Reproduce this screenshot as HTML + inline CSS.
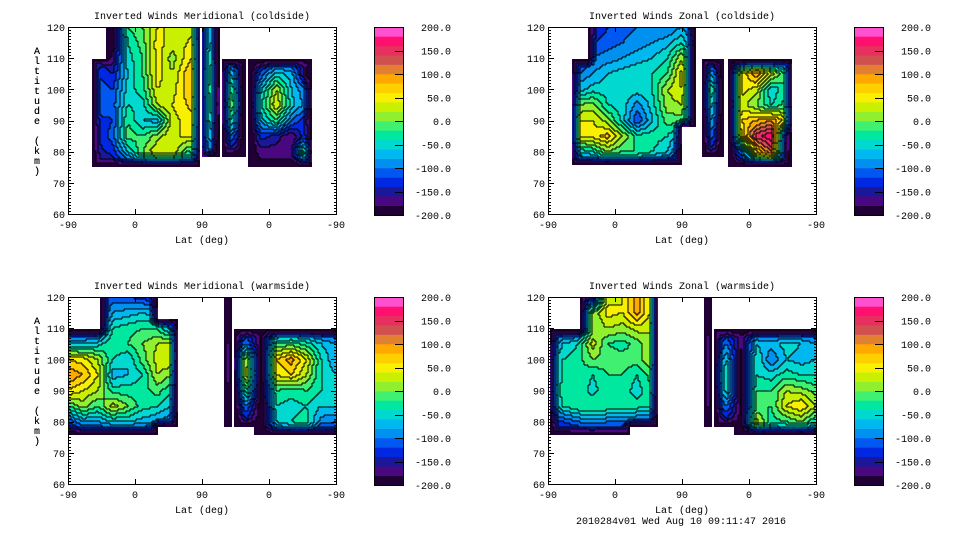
<!DOCTYPE html>
<html><head><meta charset="utf-8"><style>
html,body{margin:0;padding:0;background:#fff;}
svg{display:block;}
text{font-family:"Liberation Mono","DejaVu Sans Mono",monospace;font-size:10px;fill:#000;}
</style></head><body>
<svg id="root" width="960" height="540" viewBox="0 0 960 540"></svg>
<script>
// ---- data (rows: altitude 120,115,...,75 km; columns: lat-axis position 0,20,...,360) ----
const altRows = [120,115,110,105,100,95,90,85,80,75];
const colPos = [0,20,40,60,80,100,120,140,160,180,200,220,240,260,280,300,320,340,360];
const xTickLabels = ["-90","0","90","0","-90"];
const yTickLabels = ["60","70","80","90","100","110","120"];
const cbarLabels = ["200.0","150.0","100.0","50.0","0.0","-50.0","-100.0","-150.0","-200.0"];

const valsTL = [
[-150,-150,-150,-200,-20,0,40,40,30,40,-150,-120,-200,-170,-150,-140,-150,-150,-150],
[-150,-150,-150,-190,-40,-10,50,30,40,60,-140,-120,-200,-170,-150,-140,-150,-150,-150],
[-150,-150,-130,-170,-50,-20,50,10,50,80,-130,-120,-200,-170,-150,-140,-150,-150,-150],
[-150,-120,-120,-140,-60,-20,50,20,70,100,-120,-60,-200,-110,-50,-70,-180,-150,-150],
[-150,-110,-110,-120,-50,-30,40,30,70,100,-110,-20,-200,-60,20,-60,-100,-100,-100],
[-150,-100,-100,-110,-40,-50,20,40,60,80,-100,0,-200,-40,40,-50,-90,-90,-90],
[-150,-130,-130,-120,-20,-60,-70,30,50,60,-120,-40,-200,-70,-20,-100,-140,-140,-140],
[-150,-140,-140,-110,-10,-20,10,40,40,40,-140,-100,-200,-130,-150,-180,-120,-120,-120],
[-150,-150,-150,-130,-60,0,40,40,-20,0,-170,-160,-200,-170,-170,-170,10,10,10],
[-170,-170,-170,-170,-150,-150,-150,-150,-150,-150,-180,-180,-200,-190,-180,-180,-150,-150,-150]];
const valsTR = [
[-150,-150,-150,-150,-120,-110,-100,-100,-100,-80,-130,-150,-200,-150,-130,-120,-130,-130,-130],
[-150,-150,-150,-120,-110,-100,-90,-80,-70,-40,-120,-150,-200,-150,-130,-120,-130,-130,-130],
[-150,-150,-150,-100,-90,-80,-70,-60,-40,20,-150,-150,-200,-150,-130,-120,-130,-130,-130],
[-100,-100,-100,-80,-60,-50,-40,-40,-20,50,-170,-80,-200,40,100,30,-20,-20,-20],
[-70,-70,-70,-50,-50,-40,-50,-40,20,40,-170,-20,-200,50,30,-60,-20,-20,-20],
[0,0,0,10,-40,-50,-90,-50,10,20,-150,-50,-200,30,0,-40,-10,-10,-10],
[40,40,40,40,10,-50,-120,-60,-10,-10,-160,-80,-200,60,80,100,50,50,50],
[50,50,50,50,70,20,-30,-30,-40,-80,-170,-110,-200,40,150,180,-150,-150,-150],
[-60,-60,-60,-40,0,-20,-20,-40,-60,-120,-190,-150,-200,-100,60,120,-150,-150,-150],
[-150,-150,-150,-150,-150,-150,-150,-150,-150,-150,-190,-170,-200,-170,-160,-160,-160,-160,-160]];
const valsBL = [
[-150,-150,-150,-110,-120,-130,-140,-150,-150,-150,-150,-170,-150,-170,-130,-130,-130,-140,-140],
[-150,-150,-150,-80,-70,-60,-80,-140,-150,-150,-150,-170,-150,-170,-130,-130,-130,-140,-140],
[-150,-150,-150,-40,-30,-20,-20,-80,-150,-150,-150,-170,-150,-170,-130,-130,-130,-140,-140],
[-60,-60,-50,-20,-20,0,20,30,-150,-150,-150,-150,-100,-190,-20,-10,-30,-60,-80],
[60,50,20,-40,-60,-10,30,40,-150,-150,-150,-120,20,-200,60,90,40,-40,-80],
[100,80,40,-70,-60,-40,20,0,-150,-150,-150,-140,30,-200,40,60,20,-40,-60],
[60,40,20,-30,-30,-30,-10,-40,-150,-150,-150,-160,-20,-200,-20,-30,-20,-40,-50],
[-20,10,-20,30,0,-30,-40,-60,-150,-150,-150,-170,-100,-200,-40,-50,-40,-60,-60],
[-120,-80,-80,-60,-60,-70,-80,-100,-150,-150,-150,-190,-150,-200,-60,-40,-30,-90,-100],
[-180,-170,-170,-170,-170,-170,-170,-170,-170,-170,-170,-190,-170,-200,-150,-150,-150,-160,-160]];
const valsBR = [
[-150,-150,-150,-160,30,40,90,30,-150,-150,-150,-160,-150,-170,-140,-140,-140,-140,-140],
[-150,-150,-150,0,50,40,90,30,-150,-150,-150,-160,-150,-170,-140,-140,-140,-140,-140],
[-150,-140,-140,0,20,10,30,20,-150,-150,-150,-160,-150,-170,-140,-140,-140,-140,-140],
[-110,-60,-40,30,-20,-30,-10,20,-150,-150,-150,-140,-100,-180,-60,-70,-50,-60,-80],
[-80,-40,-30,0,-10,-10,-10,20,-150,-150,-150,-130,-60,-190,-40,-100,-60,-70,-60],
[-90,-40,-20,-40,-20,-20,-40,-10,-150,-150,-150,-120,-40,-190,-40,-50,-30,-40,-40],
[-70,-30,-20,-50,-20,-30,-50,-20,-150,-150,-150,-130,-50,-190,-20,-20,20,10,-10],
[-90,-40,-20,-20,-20,-30,-30,-40,-150,-150,-150,-150,-100,-190,-20,-20,40,60,20],
[-140,-120,-100,-90,-100,-100,-110,-110,-150,-150,-150,-180,-150,-190,30,-30,-20,0,-40],
[-180,-170,-170,-170,-170,-170,-170,-170,-170,-170,-170,-180,-170,-190,-150,-150,-150,-150,-160]];
// data coverage regions [posStart,posEnd,altBottom,altTop]
const coverTL = [[31,177,75,110],[52,177,110,120],[181,204,78,120],[208,239,78,110],[242,328,75,110]];
const coverTR = [[32,180,76,110],[54,180,110,120],[180,200,88,120],[208,237,78,110],[242,328,75,110]];
const coverBL = [[0,43,76,110],[43,120,76,120],[120,148,78,113],[209,221,78,120],[222,249,78,110],[251,360,76,110]];
const coverBR = [[3,43,76,110],[43,110,76,120],[110,148,78,120],[209,221,78,120],[222,249,78,110],[251,360,76,110]];

const CMAP = ["#200034","#4a0880","#1a1898","#0028e0","#0058f0","#0090f0","#00b8f0","#00d8d0","#00e8a0","#40f070",
              "#90f030","#c8f000","#f8f000","#ffd000","#ffa800","#e08030","#d05050","#e83060","#ff1070","#ff50d0"];

const NS="http://www.w3.org/2000/svg";
const root=document.getElementById('root');
function mk(tag,attrs,parent){const e=document.createElementNS(NS,tag);for(const k in attrs)e.setAttribute(k,attrs[k]);(parent||root).appendChild(e);return e;}
function txt(s,x,y,anchor,parent){const t=mk('text',{x:x,y:y,'text-anchor':anchor||'start'},parent);t.textContent=s;return t;}

function chamfer(mask,nx,ny,seedFn){
  const d=[];for(let j=0;j<ny;j++){d.push([]);for(let i=0;i<nx;i++)d[j].push(seedFn(i,j)?0:1e9);}
  for(let pass=0;pass<2;pass++){
    for(let j=0;j<ny;j++)for(let i=0;i<nx;i++){
      for(const [di,dj,w] of [[-1,0,1],[0,-1,1],[-1,-1,1.41],[1,-1,1.41]]){const ii=i+di,jj=j+dj;
        if(ii>=0&&jj>=0&&ii<nx&&jj<ny&&d[jj][ii]+w<d[j][i])d[j][i]=d[jj][ii]+w;}}
    for(let j=ny-1;j>=0;j--)for(let i=nx-1;i>=0;i--){
      for(const [di,dj,w] of [[1,0,1],[0,1,1],[1,1,1.41],[-1,1,1.41]]){const ii=i+di,jj=j+dj;
        if(ii>=0&&jj>=0&&ii<nx&&jj<ny&&d[jj][ii]+w<d[j][i])d[j][i]=d[jj][ii]+w;}}
  }
  return d;
}

const PW=268, PH=187;
function drawPanel(ox,oy,title,vals,cover,key){
  const g=mk('g',{});
  
  
  const xs=u=>ox+u/360*PW, ys=a=>oy+(120-a)/60*PH;
  const uOf=px=>(px-ox)/PW*360, aOf=py=>120-(py-oy)/PH*60;
  const C=2, nx=PW/C, ny=Math.ceil(PH/C);
  function val(u,a){
    let fc=u/(colPos[1]-colPos[0]); fc=Math.max(0,Math.min(colPos.length-1.001,fc));
    let fr=(120-a)/5; fr=Math.max(0,Math.min(altRows.length-1.001,fr));
    const c0=Math.floor(fc),r0=Math.floor(fr),tc=fc-c0,tr=fr-r0;
    const v00=vals[r0][c0],v01=vals[r0][c0+1],v10=vals[r0+1][c0],v11=vals[r0+1][c0+1];
    return (v00*(1-tc)+v01*tc)*(1-tr)+(v10*(1-tc)+v11*tc)*tr;
  }
  const raw=[];
  for(let j=0;j<ny;j++){raw.push([]);
    for(let i=0;i<nx;i++){const u=uOf(ox+i*C+1),a=aOf(oy+j*C+1);
      let ins=false;for(const r of cover){if(u>=r[0]&&u<=r[1]&&a>=r[2]&&a<=r[3]){ins=true;break;}}
      raw[j].push(ins);}}
  // morphological opening to round corners
  const r=1.5;
  const d1=chamfer(raw,nx,ny,(i,j)=>!raw[j][i]);
  const core=(i,j)=>raw[j][i]&&d1[j][i]>r;
  const d2=chamfer(raw,nx,ny,core);
  const inside=[];for(let j=0;j<ny;j++){inside.push([]);for(let i=0;i<nx;i++)inside[j].push(raw[j][i]&&(d2[j][i]<=r+0.5||d1[j][i]<=1.01&&d2[j][i]<1e8&&d2[j][i]<=2.5));}
  const dist=chamfer(inside,nx,ny,(i,j)=>!inside[j][i]);
  const R=5, band=[];
  for(let j=0;j<ny;j++){band.push([]);for(let i=0;i<nx;i++){
    if(!inside[j][i]){band[j].push(-1);continue;}
    let v=val(uOf(ox+i*C+1),aOf(oy+j*C+1));const d=dist[j][i];
    if(d<R) v=-200+(v+200)*(d/R);
    band[j].push(Math.max(0,Math.min(19,Math.floor((v+200)/20))));}}
  const paths=CMAP.map(()=>[]);
  for(let j=0;j<ny;j++){let i=0;while(i<nx){const b=band[j][i];let k=i;while(k<nx&&band[j][k]===b)k++;
    if(b>=0){const h=Math.min(C,PH-j*C);paths[b].push('M'+(ox+i*C)+' '+(oy+j*C)+'h'+((k-i)*C)+'v'+h+'h'+(-(k-i)*C)+'z');}i=k;}}
  paths.forEach((p,b)=>{if(!p.length)return;const e=mk('path',{d:p.join(''),fill:CMAP[b]},g);
    
    });
  let ln=[];
  for(let j=0;j<ny;j++)for(let i=0;i<nx;i++){const b=band[j][i];if(b<0)continue;
    if(i+1<nx&&band[j][i+1]>=0&&band[j][i+1]!==b)ln.push('M'+(ox+i*C+C)+' '+(oy+j*C)+'v'+C);
    if(j+1<ny&&band[j+1][i]>=0&&band[j+1][i]!==b)ln.push('M'+(ox+i*C)+' '+(oy+j*C+C)+'h'+C);}
  const cl=mk('path',{d:ln.join(''),stroke:'#000','stroke-width':1,fill:'none'},g);
  
  
  const fr=mk('rect',{x:ox+0.5,y:oy+0.5,width:PW,height:PH,fill:'none',stroke:'#000','stroke-width':1},g);
  
  
  let tk=[];
  for(let a=60;a<=120;a++){const y=Math.round(ys(a))+0.5,L=(a%10===0)?6:3;
    tk.push('M'+(ox)+' '+y+'h'+L,'M'+(ox+PW+1)+' '+y+'h'+(-L));}
  for(let k=1;k<4;k++){const x=Math.round(xs(k*90))+0.5;tk.push('M'+x+' '+(oy+PH)+'v-5','M'+x+' '+oy+'v5');}
  const te=mk('path',{d:tk.join(''),stroke:'#000','stroke-width':1},g);
  
  
  yTickLabels.forEach((s,k)=>{const t=txt(s,ox-3,ys(60+k*10)+4,'end',g);
    
    });
  xTickLabels.forEach((s,k)=>{const t=txt(s,xs(k*90),oy+PH+14,'middle',g);
    
    });
  const xt=txt('Lat (deg)',ox+PW/2,oy+PH+29,'middle',g);
  
  
  const tt=txt(title,ox+PW/2,oy-8,'middle',g);
  
  
  const yg=mk('g',{},g);
  
  
  'Altitude (km)'.split('').forEach((ch,k)=>{if(ch!==' ')txt(ch,37,oy+27+k*10,'middle',yg);});
  const cb=mk('g',{},g);
  
  
  const bx=ox+306,bw=29,bh=188,bt=oy;
  CMAP.forEach((c,b)=>{mk('rect',{x:bx,y:bt+bh-(b+1)*bh/20,width:bw,height:bh/20+0.3,fill:c},cb);});
  mk('rect',{x:bx+0.5,y:bt+0.5,width:bw,height:bh,fill:'none',stroke:'#000'},cb);
  cbarLabels.forEach((s,k)=>{const y=bt+k*bh/8;
    if(k>0&&k<8)mk('path',{d:'M'+(bx+bw-8)+' '+(Math.round(y)+0.5)+'h8',stroke:'#000'},cb);
    txt(s,bx+77,y+4,'end',cb);});
}
drawPanel(68,27,'Inverted Winds Meridional (coldside)',valsTL,coverTL,'meridional-coldside');
drawPanel(548,27,'Inverted Winds Zonal (coldside)',valsTR,coverTR,'zonal-coldside');
drawPanel(68,297,'Inverted Winds Meridional (warmside)',valsBL,coverBL,'meridional-warmside');
drawPanel(548,297,'Inverted Winds Zonal (warmside)',valsBR,coverBR,'zonal-warmside');
const ft=txt('2010284v01 Wed Aug 10 09:11:47 2016',681,524,'middle');


</script>
</body></html>
